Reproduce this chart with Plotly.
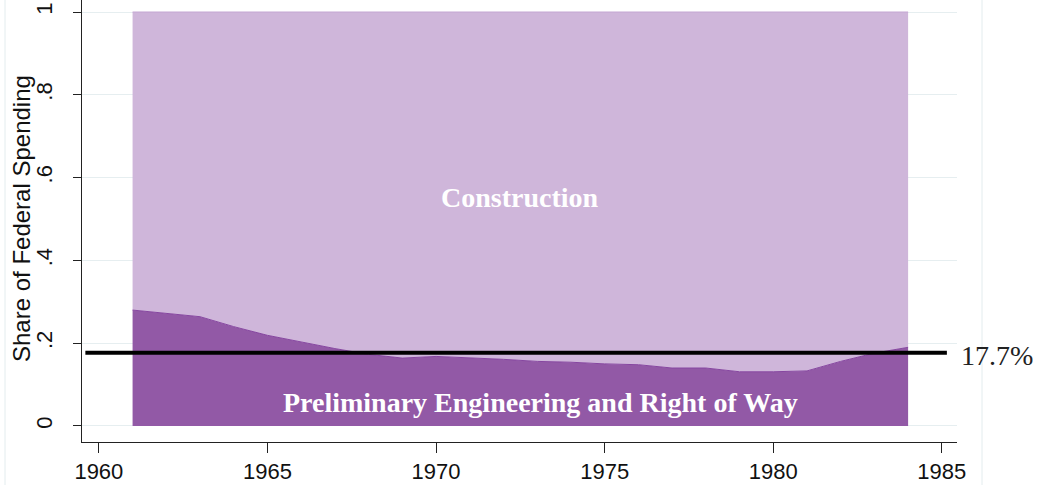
import plotly.graph_objects as go

# Share of federal highway spending going to preliminary engineering and right of way
years = list(range(1961, 1985))
pe_row_share = [0.280, 0.272, 0.264, 0.240, 0.219, 0.203, 0.187, 0.173,
                0.164, 0.168, 0.165, 0.161, 0.156, 0.154, 0.150, 0.148,
                0.140, 0.140, 0.131, 0.131, 0.133, 0.156, 0.176, 0.190]
total_share = [1.0] * len(years)

# average share reference line
avg_share = 0.177
avg_x = [1959.6, 1985.15]
avg_label = "17.7%"

y_ticks = [0, 0.2, 0.4, 0.6, 0.8, 1]
y_tick_text = ["0", ".2", ".4", ".6", ".8", "1"]
x_ticks = [1960, 1965, 1970, 1975, 1980, 1985]

dark = "#9259a6"
light = "#cfb6da"
serif = "Liberation Serif"

fig = go.Figure()

fig.add_trace(go.Scatter(
    x=years, y=pe_row_share,
    mode="lines", fill="tozeroy",
    line=dict(color="#8646a0", width=1),
    fillcolor=dark,
    name="Preliminary Engineering and Right of Way",
))

fig.add_trace(go.Scatter(
    x=years, y=total_share,
    mode="lines", fill="tonexty",
    line=dict(color="#c4a6d2", width=1),
    fillcolor=light,
    name="Construction",
))

fig.add_trace(go.Scatter(
    x=avg_x, y=[avg_share, avg_share],
    mode="lines",
    line=dict(color="black", width=4),
    name="Average",
))

# labels inside the areas
fig.add_annotation(x=1972.5, y=0.553, text="<b>Construction</b>", showarrow=False,
                   font=dict(family=serif, size=28, color="white"))
fig.add_annotation(x=1973.1, y=0.056, text="<b>Preliminary Engineering and Right of Way</b>",
                   showarrow=False,
                   font=dict(family=serif, size=28, color="white"))
fig.add_annotation(x=avg_x[1], y=avg_share, text=avg_label, showarrow=False,
                   xanchor="left", xshift=12, yshift=-3,
                   font=dict(family=serif, size=28, color="#222222"))

# y axis title placed as annotation so it can sit closer to the edge like Stata does
fig.add_annotation(x=(22 - 82) / 875, y=0.5, xref="paper", yref="y",
                   xanchor="center", yanchor="middle",
                   text="Share of Federal Spending", textangle=-90, showarrow=False,
                   font=dict(family="Liberation Sans", size=24, color="#111111"))

# faint outer frame lines of the graph region (pixel positions converted to paper)
for px in [5, 982]:
    fig.add_shape(type="line", xref="paper", yref="paper",
                  x0=(px - 82) / 875, x1=(px - 82) / 875,
                  y0=-0.1, y1=1.0,
                  line=dict(color="#e3ecee", width=1), layer="below")

fig.update_layout(
    width=1045, height=485,
    margin=dict(l=82, r=88, t=0, b=43),
    plot_bgcolor="white", paper_bgcolor="white",
    showlegend=False,
    font=dict(family="Liberation Sans", color="#111111"),
    xaxis=dict(
        range=[1959.5, 1985.45],
        tickmode="array", tickvals=x_ticks,
        ticks="outside", ticklen=10, tickwidth=1, tickcolor="#222222",
        showline=True, linecolor="#222222", linewidth=1,
        showgrid=False, zeroline=False,
        tickfont=dict(size=22),
    ),
    yaxis=dict(
        range=[-0.0387, 1.029],
        tickmode="array", tickvals=y_ticks, ticktext=y_tick_text,
        tickangle=-90,
        ticks="outside", ticklen=8, tickwidth=1, tickcolor="#222222",
        showline=True, linecolor="#222222", linewidth=1,
        showgrid=True, gridcolor="#e6eef0", gridwidth=1,
        zeroline=False,
        tickfont=dict(size=22),
        ticklabelstandoff=12,
    ),
)

# drop the browser's default body margin so the figure sits at the page corner
fig.write_html("out.html", config={"displayModeBar": False},
               post_script="document.body.style.margin='0';")
